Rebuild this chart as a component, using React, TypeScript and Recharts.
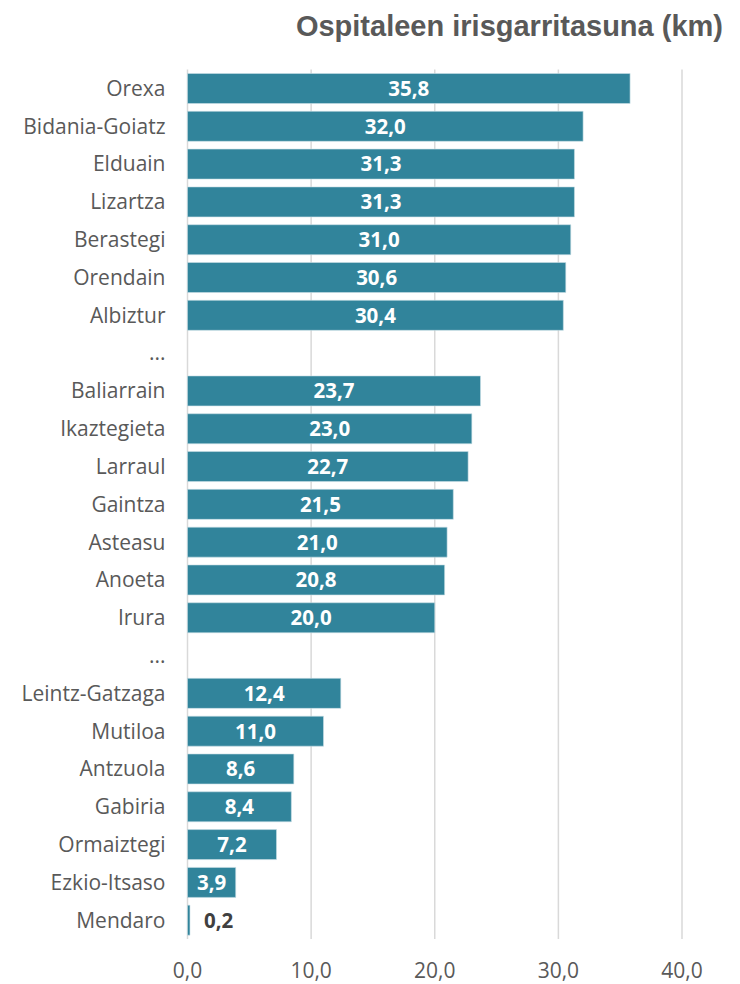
import React from "react";
import { BarChart, Bar, XAxis, YAxis, CartesianGrid, LabelList } from "recharts";

const categories = [
  "Orexa", "Bidania-Goiatz", "Elduain", "Lizartza", "Berastegi", "Orendain", "Albiztur", "...",
  "Baliarrain", "Ikaztegieta", "Larraul", "Gaintza", "Asteasu", "Anoeta", "Irura", "...",
  "Leintz-Gatzaga", "Mutiloa", "Antzuola", "Gabiria", "Ormaiztegi", "Ezkio-Itsaso", "Mendaro",
];
const values: (number | null)[] = [
  35.8, 32.0, 31.3, 31.3, 31.0, 30.6, 30.4, null,
  23.7, 23.0, 22.7, 21.5, 21.0, 20.8, 20.0, null,
  12.4, 11.0, 8.6, 8.4, 7.2, 3.9, 0.2,
];
const xTicks = [0, 10, 20, 30, 40];
const title = "Ospitaleen irisgarritasuna (km)";

const data = categories.map((name, i) => ({ name, value: values[i] }));
const fmt = (v: number) => v.toFixed(1).replace(".", ",");

const FONT = "'Open Sans', sans-serif";

const renderLabel = (props: any) => {
  const { x, y, width, height, value } = props;
  if (value == null) return null;
  const small = value < 1;
  return (
    <text
      x={small ? x + width + 14 : x + width / 2}
      y={y + height / 2}
      dy="0.36em"
      textAnchor={small ? "start" : "middle"}
      fill={small ? "#404040" : "#ffffff"}
      fontFamily={FONT}
      fontWeight={700}
      fontSize={20.5}
    >
      {fmt(value)}
    </text>
  );
};

export default function App() {
  return (
    <div style={{ position: "absolute", left: 0, top: 0, width: 740, height: 984, background: "#fff" }}>
      <BarChart
        width={740}
        height={984}
        data={data}
        layout="vertical"
        margin={{ top: 69.5, right: 58, bottom: 0, left: 0 }}
        barCategoryGap={7.8}
      >
        <text x={723} y={36} textAnchor="end" fontFamily="'Liberation Sans', Arial, sans-serif" fontWeight={700} fontSize={29} fill="#595959">
          {title}
        </text>
        <CartesianGrid horizontal={false} vertical stroke="#d9d9d9" strokeWidth={1.5} />
        <XAxis
          type="number"
          domain={[0, 40]}
          ticks={xTicks}
          tickFormatter={fmt}
          axisLine={false}
          tickLine={false}
          tickSize={0}
          tickMargin={24}
          height={45}
          tick={{ fill: "#595959", fontSize: 21, fontFamily: FONT }}
          interval={0}
        />
        <YAxis
          type="category"
          dataKey="name"
          width={187.5}
          axisLine={false}
          tickLine={false}
          tickSize={0}
          tickMargin={22}
          interval={0}
          tick={{ fill: "#595959", fontSize: 21, fontFamily: FONT }}
        />
        <Bar dataKey="value" fill="#31849b" stroke="#c9dfe5" strokeWidth={0.6} barSize={30} isAnimationActive={false}>
          <LabelList dataKey="value" content={renderLabel} />
        </Bar>
      </BarChart>
    </div>
  );
}
